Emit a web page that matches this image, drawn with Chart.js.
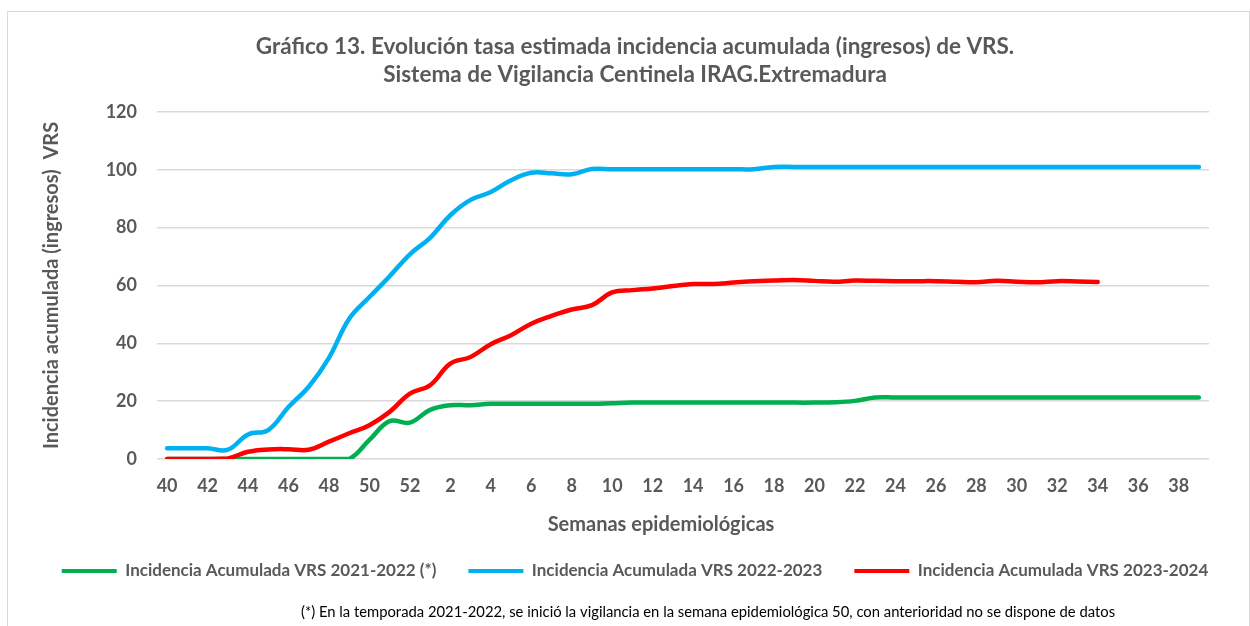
<!DOCTYPE html>
<html><head><meta charset="utf-8">
<script src="https://cdn.jsdelivr.net/npm/chart.js@4.4.1/dist/chart.umd.min.js"></script>
<style>
html,body{margin:0;padding:0;background:#fff;}
#wrap{position:relative;width:1250px;height:626px;overflow:hidden;background:#fff;}
#frame{position:absolute;left:7px;top:11px;width:1243px;height:700px;border:1px solid #D9D9D9;box-sizing:border-box;pointer-events:none;}
canvas{position:absolute;left:0;top:0;}
</style></head><body>
<div id="wrap"><canvas id="c" width="1250" height="626"></canvas><div id="frame"></div></div>
<script>
// Epidemiological weeks (40..52, then 1..39)
const weekLabels = ['40','41','42','43','44','45','46','47','48','49','50','51','52',
  '1','2','3','4','5','6','7','8','9','10','11','12','13','14','15','16','17','18','19','20',
  '21','22','23','24','25','26','27','28','29','30','31','32','33','34','35','36','37','38','39'];

const seriesNames = ['Incidencia Acumulada VRS 2021-2022 (*)','Incidencia Acumulada VRS 2022-2023','Incidencia Acumulada VRS 2023-2024'];

const ia2122 = [0,0,0,0,0,0,0,0,0,0,
  6.6,13.1,12.6,17,18.6,18.6,19.1,19.1,19.1,19.1,19.1,19.1,
  19.3,
  19.5,19.5,19.5,19.5,19.5,19.5,19.5,19.5,19.5,19.5,
  19.6,20.1,21.3,
  21.3,21.3,21.3,21.3,21.3,21.3,21.3,21.3,21.3,21.3,21.3,21.3,21.3,21.3,21.3,21.3];

const ia2223 = [3.7,3.7,3.7,3.2,8.5,10,18,25,35,48.5,56,63.2,70.8,76.5,84.3,89.6,92.3,96.4,99,98.8,98.5,100.3,
  100.2,100.2,100.2,100.2,100.2,100.2,100.2,100.2,
  101,101,101,101,101,101,101,101,101,101,101,101,101,101,101,101,101,101,101,101,101,101];

const ia2324 = [0,0,0,0.2,2.5,3.3,3.4,3.2,6,8.9,
  11.7,16.3,22.6,25.5,33,35.3,39.7,42.8,46.8,49.5,
  51.7,53.2,57.6,58.4,59,59.8,60.5,60.5,61,61.5,
  61.7,61.9,61.6,61.3,61.7,61.6,61.5,61.5,61.5,61.3,
  61.1,61.6,61.3,61.1,61.5,61.4,61.2];

const yTicks = [0,20,40,60,80,100,120];

const titleLines = ['Gráfico 13. Evolución tasa estimada incidencia acumulada (ingresos) de VRS.','Sistema de Vigilancia Centinela IRAG.Extremadura'];
const yTitle = 'Incidencia acumulada (ingresos)  VRS';
const xTitle = 'Semanas epidemiológicas';
const footnote = '(*) En la temporada 2021-2022, se inició la vigilancia en la semana epidemiológica 50, con anterioridad no se dispone de datos';

const FONT = 'Lato, "Open Sans", sans-serif';
const GRAY = '#595959';

const extraText = {
  id: 'extraText',
  afterDraw(chart) {
    const c = chart.ctx, a = chart.chartArea;
    c.save();
    c.textAlign = 'center';
    c.textBaseline = 'middle';
    c.fillStyle = GRAY;
    c.font = 'bold 20px ' + FONT;
    c.fillText(xTitle, (a.left + a.right) / 2 - 22, a.bottom + 66);
    c.fillStyle = '#000';
    c.font = '14.8px ' + FONT;
    c.fillText(footnote, 708, 612);
    c.restore();
  }
};

new Chart(document.getElementById('c'), {
  type: 'line',
  data: {
    labels: weekLabels,
    datasets: [
      {label: seriesNames[0], data: ia2122, borderColor: '#00B050', backgroundColor: '#00B050', order: 2},
      {label: seriesNames[1], data: ia2223, borderColor: '#00B0F0', backgroundColor: '#00B0F0', order: 1},
      {label: seriesNames[2], data: ia2324, borderColor: '#FF0000', backgroundColor: '#FF0000', order: 0}
    ]
  },
  options: {
    responsive: false,
    animation: false,
    devicePixelRatio: 1,
    layout: {padding: {left: 20, right: 0, top: 0, bottom: 36.5}},
    elements: {
      line: {borderWidth: 4.5, tension: 0.4, borderCapStyle: 'round', borderJoinStyle: 'round', fill: false},
      point: {radius: 0, hoverRadius: 0}
    },
    plugins: {
      title: {
        display: true, text: titleLines, color: GRAY,
        font: {family: FONT, size: 22.5, weight: 'bold', lineHeight: 28 / 22.5},
        padding: {top: 33, bottom: 23}
      },
      legend: {
        position: 'bottom',
        labels: {
          boxWidth: 55, boxHeight: 4, padding: 32, color: GRAY,
          font: {family: FONT, size: 17, weight: 'bold'},
          sort: (a, b) => a.datasetIndex - b.datasetIndex,
          generateLabels: chart => Chart.defaults.plugins.legend.labels.generateLabels(chart)
            .map(l => Object.assign({}, l, {lineWidth: 0, fillStyle: l.strokeStyle}))
        }
      },
      tooltip: {enabled: false}
    },
    scales: {
      x: {
        offset: true,
        grid: {display: false, drawTicks: false},
        border: {display: false},
        ticks: {
          autoSkip: false, maxRotation: 0, minRotation: 0, padding: 16.5, color: GRAY,
          font: {family: FONT, size: 18, weight: 'bold'},
          callback: (v, i) => (i % 2 === 0 ? weekLabels[i] : '')
        },
        afterFit: s => { s.height = 71.5; }
      },
      y: {
        min: yTicks[0], max: yTicks[yTicks.length - 1],
        afterBuildTicks: s => { s.ticks = yTicks.map(v => ({value: v})); },
        ticks: {padding: 20, color: GRAY, font: {family: FONT, size: 18, weight: 'bold'}},
        grid: {color: '#D9D9D9', lineWidth: 1.5, drawTicks: false},
        border: {display: false},
        title: {
          display: true, text: yTitle, color: GRAY,
          font: {family: FONT, size: 20, weight: 'bold'},
          padding: {top: 20, bottom: 0}
        },
        afterFit: s => { s.width = 137; }
      },
      yRight: {
        position: 'right',
        grid: {display: false, drawTicks: false},
        border: {display: false},
        ticks: {display: false},
        afterFit: s => { s.width = 41; }
      }
    }
  },
  plugins: [extraText]
});
</script>
</body></html>
